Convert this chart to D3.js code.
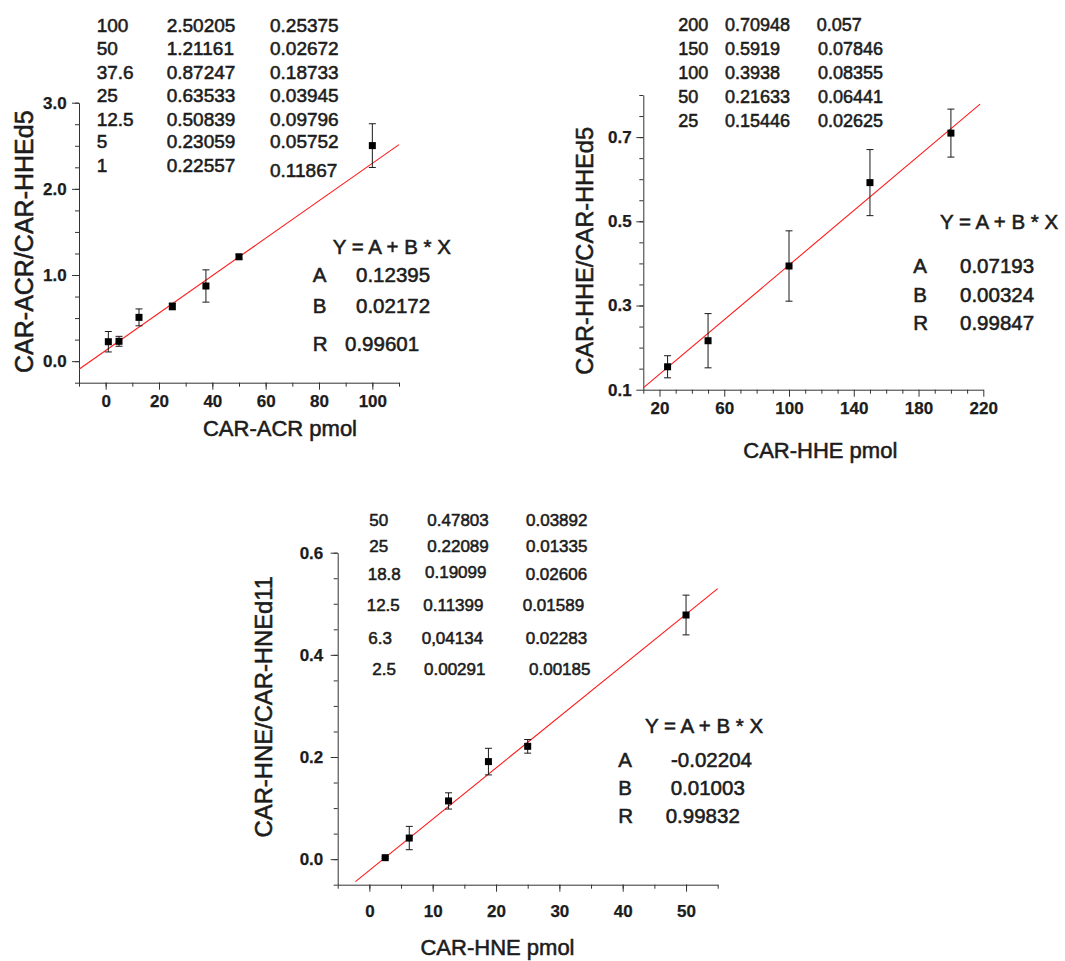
<!DOCTYPE html>
<html>
<head>
<meta charset="utf-8">
<script src="https://cdn.jsdelivr.net/npm/d3@7/dist/d3.min.js"></script>
<style>
  html, body { margin: 0; padding: 0; background: #fff; }
  svg text { font-family: "Liberation Sans", Arial, Helvetica, sans-serif; fill: #1c1c1c; stroke: #1c1c1c; stroke-width: 0.55px; }
</style>
</head>
<body>
<svg id="chart" width="1065" height="961"></svg>
<script>
// ---------------- DATA ----------------
// Panel 1: CAR-ACR
const acrX   = [1, 5, 12.5, 25, 37.6, 50, 100];
const acrY   = [0.22557, 0.23059, 0.50839, 0.63533, 0.87247, 1.21161, 2.50205];
const acrErr = [0.11867, 0.05752, 0.09796, 0.03945, 0.18733, 0.02672, 0.25375];
const acrTableC1 = ["100", "50", "37.6", "25", "12.5", "5", "1"];
const acrTableC2 = ["2.50205", "1.21161", "0.87247", "0.63533", "0.50839", "0.23059", "0.22557"];
const acrTableC3 = ["0.25375", "0.02672", "0.18733", "0.03945", "0.09796", "0.05752", "0.11867"];
const acrFit = { A: "0.12395", B: "0.02172", R: "0.99601", a: 0.12395, b: 0.02172 };
const acrXTicks = [0, 20, 40, 60, 80, 100];
const acrYTicks = [0.0, 1.0, 2.0, 3.0];

// Panel 2: CAR-HHE
const hheX   = [25, 50, 100, 150, 200];
const hheY   = [0.15446, 0.21633, 0.3938, 0.5919, 0.70948];
const hheErr = [0.02625, 0.06441, 0.08355, 0.07846, 0.057];
const hheTableC1 = ["200", "150", "100", "50", "25"];
const hheTableC2 = ["0.70948", "0.5919", "0.3938", "0.21633", "0.15446"];
const hheTableC3 = ["0.057", "0.07846", "0.08355", "0.06441", "0.02625"];
const hheFit = { A: "0.07193", B: "0.00324", R: "0.99847", a: 0.07193, b: 0.00324 };
const hheXTicks = [20, 60, 100, 140, 180, 220];
const hheYTicks = [0.1, 0.3, 0.5, 0.7];

// Panel 3: CAR-HNE
const hneX   = [2.5, 6.3, 12.5, 18.8, 25, 50];
const hneY   = [0.00291, 0.04134, 0.11399, 0.19099, 0.22089, 0.47803];
const hneErr = [0.00185, 0.02283, 0.01589, 0.02606, 0.01335, 0.03892];
const hneTableC1 = ["50", "25", "18.8", "12.5", "6.3", "2.5"];
const hneTableC2 = ["0.47803", "0.22089", "0.19099", "0.11399", "0,04134", "0.00291"];
const hneTableC3 = ["0.03892", "0.01335", "0.02606", "0.01589", "0.02283", "0.00185"];
const hneFit = { A: "-0.02204", B: "0.01003", R: "0.99832", a: -0.02204, b: 0.01003 };
const hneXTicks = [0, 10, 20, 30, 40, 50];
const hneYTicks = [0.0, 0.2, 0.4, 0.6];

// ---------------- DRAWING ----------------
const svg = d3.select("#chart");

function range(a, b, step) {
  const out = [];
  for (let v = a; v <= b + 1e-9; v += step) out.push(+v.toFixed(6));
  return out;
}

function drawPanel(p) {
  const g = svg.append("g");
  const x = d3.scaleLinear().domain(p.xDomain).range(p.xRange);
  const y = d3.scaleLinear().domain(p.yDomain).range(p.yRange);

  // minor ticks
  const xMinor = g.append("g").attr("transform", `translate(0,${p.yRange[0]})`)
    .call(d3.axisBottom(x).tickValues(p.xMinor).tickSize(4).tickFormat(() => ""));
  xMinor.select(".domain").remove();
  const yMinor = g.append("g").attr("transform", `translate(${p.xRange[0]},0)`)
    .call(d3.axisLeft(y).tickValues(p.yMinor).tickSize(4).tickFormat(() => ""));
  yMinor.select(".domain").remove();

  // main axes
  const xa = g.append("g").attr("transform", `translate(0,${p.yRange[0]})`)
    .call(d3.axisBottom(x).tickValues(p.xTicks).tickSize(7).tickSizeOuter(0)
      .tickPadding(p.xPad).tickFormat(d3.format("d")));
  const ya = g.append("g").attr("transform", `translate(${p.xRange[0]},0)`)
    .call(d3.axisLeft(y).tickValues(p.yTicks).tickSize(7).tickSizeOuter(0)
      .tickPadding(p.yPad).tickFormat(d3.format(".1f")));
  [xa, ya, xMinor, yMinor].forEach(a => {
    a.attr("font-family", null).attr("font-size", null);
    a.selectAll("line").attr("stroke", "#333").attr("stroke-width", 1);
    a.selectAll("path").attr("stroke", "#333").attr("stroke-width", 1);
    a.selectAll("text")
      .style("font-size", "17px")
      .style("font-weight", "700")
      .style("stroke-width", "0.25px");
  });

  // fit line
  g.append("line")
    .attr("x1", x(p.fitFrom)).attr("y1", y(p.fit.a + p.fit.b * p.fitFrom))
    .attr("x2", x(p.fitTo)).attr("y2", y(p.fit.a + p.fit.b * p.fitTo))
    .attr("stroke", "#ff1a1a").attr("stroke-width", 1.1);

  // error bars
  const pts = p.xs.map((v, i) => ({ x: v, y: p.ys[i], e: p.errs[i] }));
  const eb = g.append("g").attr("stroke", "#1a1a1a").attr("stroke-width", 1);
  eb.selectAll("line.v").data(pts).join("line").attr("class", "v")
    .attr("x1", d => x(d.x)).attr("x2", d => x(d.x))
    .attr("y1", d => y(d.y - d.e)).attr("y2", d => y(d.y + d.e));
  eb.selectAll("line.t").data(pts).join("line").attr("class", "t")
    .attr("x1", d => x(d.x) - 3.5).attr("x2", d => x(d.x) + 3.5)
    .attr("y1", d => y(d.y + d.e)).attr("y2", d => y(d.y + d.e));
  eb.selectAll("line.b").data(pts).join("line").attr("class", "b")
    .attr("x1", d => x(d.x) - 3.5).attr("x2", d => x(d.x) + 3.5)
    .attr("y1", d => y(d.y - d.e)).attr("y2", d => y(d.y - d.e));

  // markers
  g.selectAll("rect.m").data(pts).join("rect").attr("class", "m")
    .attr("x", d => x(d.x) - 3.5).attr("y", d => y(d.y) - 3.5)
    .attr("width", 7).attr("height", 7).attr("fill", "#000");

  // axis titles
  g.append("text").attr("x", p.xTitle[0]).attr("y", p.xTitle[1])
    .attr("text-anchor", "middle").style("font-size", p.xTitleSize + "px").text(p.xLabel);
  g.append("text").attr("transform", `translate(${p.yTitle[0]},${p.yTitle[1]}) rotate(-90)`)
    .attr("text-anchor", "middle").style("font-size", p.yTitleSize + "px").text(p.yLabel);

  // data table
  const t = g.append("g").style("font-size", p.tableSize + "px");
  [p.c1, p.c2, p.c3].forEach((col, ci) => {
    t.selectAll(null).data(col).join("text")
      .attr("x", (d, i) => p.tableX[ci][i])
      .attr("y", (d, i) => p.tableY[ci][i])
      .text(d => d);
  });

  // fit text
  const f = g.append("g").style("font-size", "20.5px");
  f.append("text").attr("x", p.eq[0]).attr("y", p.eq[1]).text("Y = A + B * X");
  ["A", "B", "R"].forEach((k, i) => {
    f.append("text").attr("x", p.fitLetX).attr("y", p.fitRowY[i]).text(k);
    f.append("text").attr("x", p.fitValX[i]).attr("y", p.fitRowY[i]).text(p.fit[k]);
  });
}

const rep = (v, n) => Array(n).fill(v);

drawPanel({
  xs: acrX, ys: acrY, errs: acrErr, fit: acrFit,
  xDomain: [-10, 110], xRange: [79, 399],
  yDomain: [-0.25, 3.0], yRange: [382.7, 102.7],
  xTicks: acrXTicks, yTicks: acrYTicks,
  xMinor: range(-10, 110, 10), yMinor: range(-0.25, 3.0, 0.25),
  xPad: 5, yPad: 5.3,
  fitFrom: -10, fitTo: 110,
  xLabel: "CAR-ACR pmol", xTitle: [280, 436], xTitleSize: 22,
  yLabel: "CAR-ACR/CAR-HHEd5", yTitle: [33, 241.7], yTitleSize: 25,
  c1: acrTableC1, c2: acrTableC2, c3: acrTableC3, tableSize: 19,
  tableX: [rep(96.7, 7), rep(166.7, 7), rep(270, 7)],
  tableY: [[32.3, 55, 79, 101.7, 125.7, 148.3, 171.7],
           [32.3, 55, 79, 101.7, 125.7, 148.3, 171.7],
           [32.3, 55, 79, 101.7, 125.7, 148.3, 176.7]],
  eq: [332.7, 254.3], fitLetX: 312.7, fitRowY: [282.3, 313.3, 351], fitValX: [356, 356, 345]
});

drawPanel({
  xs: hheX, ys: hheY, errs: hheErr, fit: hheFit,
  xDomain: [10, 220], xRange: [643.3, 983.3],
  yDomain: [0.1, 0.8], yRange: [389.7, 95],
  xTicks: hheXTicks, yTicks: hheYTicks,
  xMinor: range(10, 220, 10).filter(v => v % 20 !== 0).concat(range(40, 200, 40)),
  yMinor: range(0.15, 0.8, 0.05),
  xPad: 5, yPad: 4.6,
  fitFrom: 10, fitTo: 218,
  xLabel: "CAR-HHE pmol", xTitle: [820.3, 458.3], xTitleSize: 22,
  yLabel: "CAR-HHE/CAR-HHEd5", yTitle: [593, 250.8], yTitleSize: 23.6,
  c1: hheTableC1, c2: hheTableC2, c3: hheTableC3, tableSize: 18,
  tableX: [rep(678.3, 5), rep(725, 5), [816.7, 818, 818, 818, 818]],
  tableY: [[30.7, 55, 79, 102.7, 127.3],
           [30.7, 55, 79, 102.7, 127.3],
           [30.7, 55, 79, 102.7, 127.3]],
  eq: [940, 229], fitLetX: 913.3, fitRowY: [272.7, 302, 330], fitValX: [960, 960, 960]
});

drawPanel({
  xs: hneX, ys: hneY, errs: hneErr, fit: hneFit,
  xDomain: [-5, 55], xRange: [337.7, 717.7],
  yDomain: [-0.05, 0.6], yRange: [884.7, 552.7],
  xTicks: hneXTicks, yTicks: hneYTicks,
  xMinor: range(-5, 55, 5), yMinor: range(-0.05, 0.6, 0.05),
  xPad: 12.8, yPad: 7.4,
  fitFrom: -2.2, fitTo: 55,
  xLabel: "CAR-HNE pmol", xTitle: [497.5, 955], xTitleSize: 22,
  yLabel: "CAR-HNE/CAR-HNEd11", yTitle: [271.5, 706.7], yTitleSize: 23.8,
  c1: hneTableC1, c2: hneTableC2, c3: hneTableC3, tableSize: 17,
  tableX: [[369.3, 369.3, 367.7, 366.7, 368.3, 372.3],
           [427.3, 427.3, 425, 423.3, 421.7, 424],
           [526, 526, 525.7, 522.7, 525.7, 529]],
  tableY: [[525.7, 551.7, 580, 610.7, 644, 675],
           [525.7, 551.7, 577.7, 610.7, 644, 675],
           [525.7, 551.7, 580, 610.7, 644, 675]],
  eq: [645, 733.3], fitLetX: 618.3, fitRowY: [766.7, 795, 823.3], fitValX: [671, 670.7, 665.7]
});
</script>
</body>
</html>
